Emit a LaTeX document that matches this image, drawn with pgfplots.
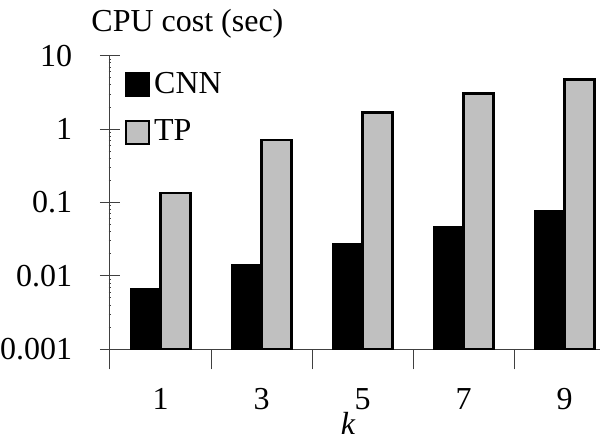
\documentclass[border=0pt]{standalone}
\usepackage{fontspec}
\setmainfont{Liberation Serif}
\usepackage{pgfplots}
\pgfplotsset{compat=1.18}
\definecolor{tpgray}{RGB}{192,192,192}
\begin{document}
\fontsize{32}{38}\selectfont
\begin{tikzpicture}
\begin{axis}[
  name=ax,
  scale only axis,
  width=490pt, height=293.6pt,
  ymode=log, ymin=0.001, ymax=10,
  log origin=infty,
  xmin=-0.5, xmax=4.351,
  axis x line=bottom, axis y line=left,
  axis line style={-, line width=1pt, black!75},
  every tick/.style={line width=1pt, black!75},
  tick align=center,
  major tick length=20pt,
  minor tick num=0,
  ytick={0.001,0.01,0.1,1,10},
  yticklabels={0.001,0.01,0.1,1,10},
  yticklabel style={xshift=-17pt},
  xtick={-0.5,0.5,1.5,2.5,3.5},
  xticklabels={},
  extra x ticks={0,1,2,3,4},
  extra x tick labels={1,3,5,7,9},
  extra x tick style={major tick length=0pt, tick label style={yshift=-28pt}},
  /pgf/number format/assume math mode=true,
  ybar=0pt, bar width=30pt,
  xlabel={\textit{k}},
  xlabel style={at={(axis description cs:0.486,0)}, anchor=north, yshift=-52pt},
  ylabel={CPU cost (sec)},
  ylabel style={rotate=-90, at={(axis description cs:0.158,1)}, anchor=base, yshift=23.7pt},
  legend style={at={(axis description cs:0,1)}, anchor=north west, draw=none, fill=none,
    xshift=12pt, yshift=-10pt, row sep=14pt, nodes={inner sep=4pt}},
  legend cell align=left,
  legend image code/.code={\draw[#1, line width=2pt] (0pt,-11pt) rectangle (23pt,12pt);},
]
\addplot[fill=black, draw=black, line width=1pt] coordinates {(0,0.00664) (1,0.01452) (2,0.0275) (3,0.0468) (4,0.0773)};
\addplot[fill=tpgray, draw=black, line width=2.5pt] coordinates {(0,0.1345) (1,0.711) (2,1.67) (3,3.07) (4,4.77)};
\legend{CNN,TP}
\end{axis}
\pgfresetboundingbox
\path[use as bounding box] ([xshift=-110pt,yshift=-90.7pt]ax.south west) rectangle ([xshift=5pt,yshift=55.7pt]ax.north east);
\end{tikzpicture}
\end{document}
